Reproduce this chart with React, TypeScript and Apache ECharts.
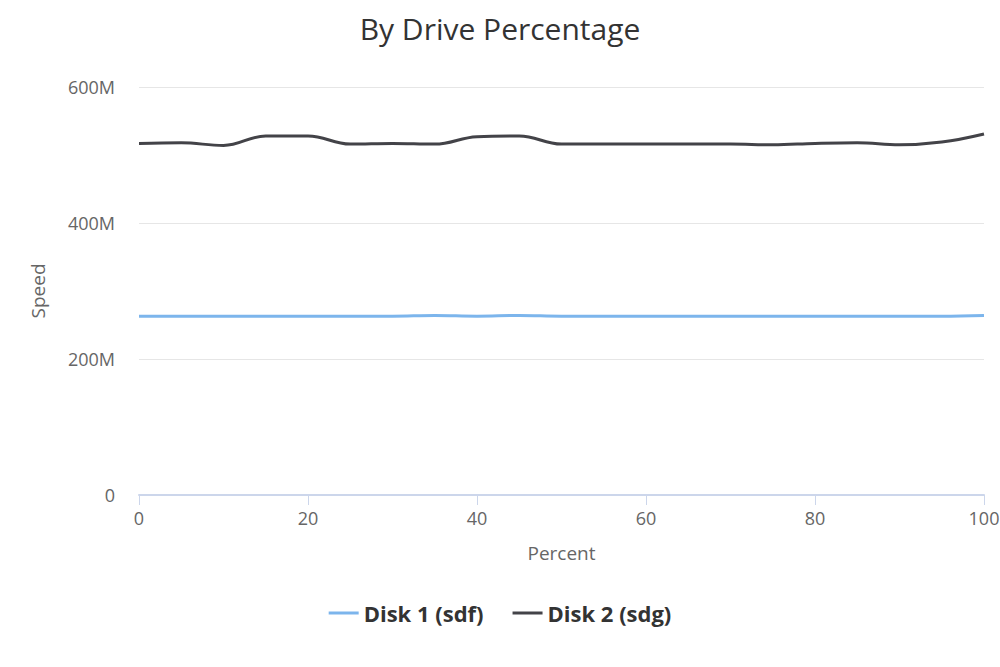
import React, { useEffect, useRef } from "react";
import * as echarts from "echarts";

const percents = [0, 5, 10, 15, 20, 25, 30, 35, 40, 45, 50, 55, 60, 65, 70, 75, 80, 85, 90, 95, 100];
const disk1 = [263, 263, 263, 263, 263, 263, 263, 264, 263, 264, 263, 263, 263, 263, 263, 263, 263, 263, 263, 263, 264];
const disk2 = [517, 518, 514, 528, 528, 516, 517, 516, 527, 528, 516, 516, 516, 516, 516, 515, 517, 518, 515, 519, 531];
const yTicks = [0, 200, 400, 600];
const xTicks = [0, 20, 40, 60, 80, 100];

const FONT = "'Open Sans', 'DejaVu Sans', sans-serif";

export default function App() {
  const ref = useRef<HTMLDivElement>(null);
  useEffect(() => {
    if (!ref.current) return;
    const chart = echarts.init(ref.current, null, { renderer: "svg" });
    chart.setOption({
      animation: false,
      backgroundColor: "#ffffff",
      title: {
        text: "By Drive Percentage",
        left: "center",
        top: 8,
        textStyle: { fontFamily: FONT, fontSize: 30, fontWeight: "normal", color: "#333333" },
      },
      grid: { left: 139, right: 16, top: 87, bottom: 172, outerBoundsMode: "none", containLabel: false },
      legend: {
        top: 597,
        left: "center",
        itemWidth: 30,
        itemHeight: 3,
        itemGap: 29,
        icon: "rect",
        textStyle: { fontFamily: FONT, fontSize: 22, fontWeight: "bold", color: "#333333" },
        data: ["Disk 1 (sdf)", "Disk 2 (sdg)"],
      },
      xAxis: {
        type: "value",
        min: xTicks[0],
        max: xTicks[xTicks.length - 1],
        interval: 20,
        name: "Percent",
        nameLocation: "middle",
        nameGap: 48,
        nameTextStyle: { fontFamily: FONT, fontSize: 19, color: "#666666" },
        axisLine: { show: true, lineStyle: { color: "#ccd6eb", width: 2 } },
        axisTick: { show: true, length: 10, lineStyle: { color: "#ccd6eb", width: 1 } },
        axisLabel: { fontFamily: FONT, fontSize: 18, color: "#666666", margin: 14 },
        splitLine: { show: false },
      },
      yAxis: {
        type: "value",
        min: yTicks[0],
        max: yTicks[yTicks.length - 1],
        interval: 200,
        name: "Speed",
        nameLocation: "middle",
        nameGap: 92,
        nameRotate: 90,
        nameTextStyle: { fontFamily: FONT, fontSize: 19, color: "#666666" },
        axisLine: { show: false },
        axisTick: { show: false },
        axisLabel: {
          fontFamily: FONT,
          fontSize: 18,
          color: "#666666",
          margin: 24,
          formatter: (v: number) => (v === 0 ? "0" : `${v}M`),
        },
        splitLine: { show: true, lineStyle: { color: "#e6e6e6", width: 1 } },
      },
      series: [
        {
          name: "Disk 1 (sdf)",
          type: "line",
          smooth: 0.4,
          symbol: "none",
          color: "#7cb5ec",
          lineStyle: { width: 3, color: "#7cb5ec" },
          data: percents.map((p, i) => [p, disk1[i]]),
        },
        {
          name: "Disk 2 (sdg)",
          type: "line",
          smooth: 0.4,
          symbol: "none",
          color: "#434348",
          lineStyle: { width: 3, color: "#434348" },
          data: percents.map((p, i) => [p, disk2[i]]),
        },
      ],
    });
    return () => chart.dispose();
  }, []);
  return <div ref={ref} style={{ width: 1000, height: 667, position: "absolute", left: 0, top: 0 }} />;
}
